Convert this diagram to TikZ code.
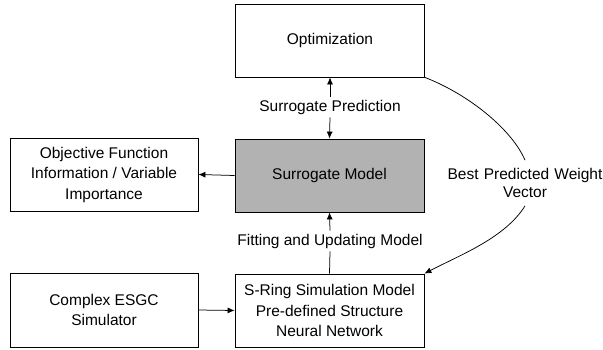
\documentclass[tikz,border=0pt]{standalone}
\usepackage{fontspec}
\setmainfont{Liberation Sans}
\usetikzlibrary{arrows.meta}
\begin{document}
\begin{tikzpicture}[x=1pt,y=-1pt,
  box/.style={draw=black,line width=0.8pt,rectangle,minimum width=189pt,minimum height=73pt,align=center,inner sep=2pt,font=\fontsize{15.5}{20.5}\selectfont},
  lbl/.style={inner sep=3pt,align=center,font=\fontsize{15.5}{18}\selectfont},
  arr/.style={-{Latex[length=7pt,width=6pt]},line width=0.75pt},
  ln/.style={line width=0.75pt}]
\useasboundingbox (0,0) rectangle (603,349);
\node[box] (opt) at (330,40.5) {Optimization};
\node[box,fill=black!30] (sur) at (329.5,175.5) {Surrogate Model};
\node[box] (srng) at (329.5,310.5) {S-Ring Simulation Model\\Pre-defined Structure\\Neural Network};
\node[box,minimum width=188pt] (obj) at (104,174.5) {Objective Function\\Information / Variable\\Importance};
\node[box,minimum width=188pt,minimum height=74pt] (cpx) at (104,310) {Complex ESGC\\Simulator};
\node[lbl] (sp) at (330,107) {Surrogate Prediction};
\node[lbl] (fu) at (330,241) {Fitting and Updating Model};
\node[lbl,inner sep=8pt,text width=160pt] (bp) at (525,183) {Best Predicted Weight\\Vector};
\draw[arr] (sp.north) -- (opt.south);
\draw[arr] (sp.south) -- (sur.north);
\draw[arr] (fu.north) -- (sur.south);
\draw[ln] (srng.north) -- (fu.south);
\draw[arr] (sur.west) -- (obj.east);
\draw[arr] (cpx.east) -- (srng.west);
\draw[ln] (opt.south east) .. controls (470,95) and (512,130) .. (bp.north);
\draw[arr] (bp.south) .. controls (505,238) and (460,255) .. (srng.north east);
\end{tikzpicture}
\end{document}
